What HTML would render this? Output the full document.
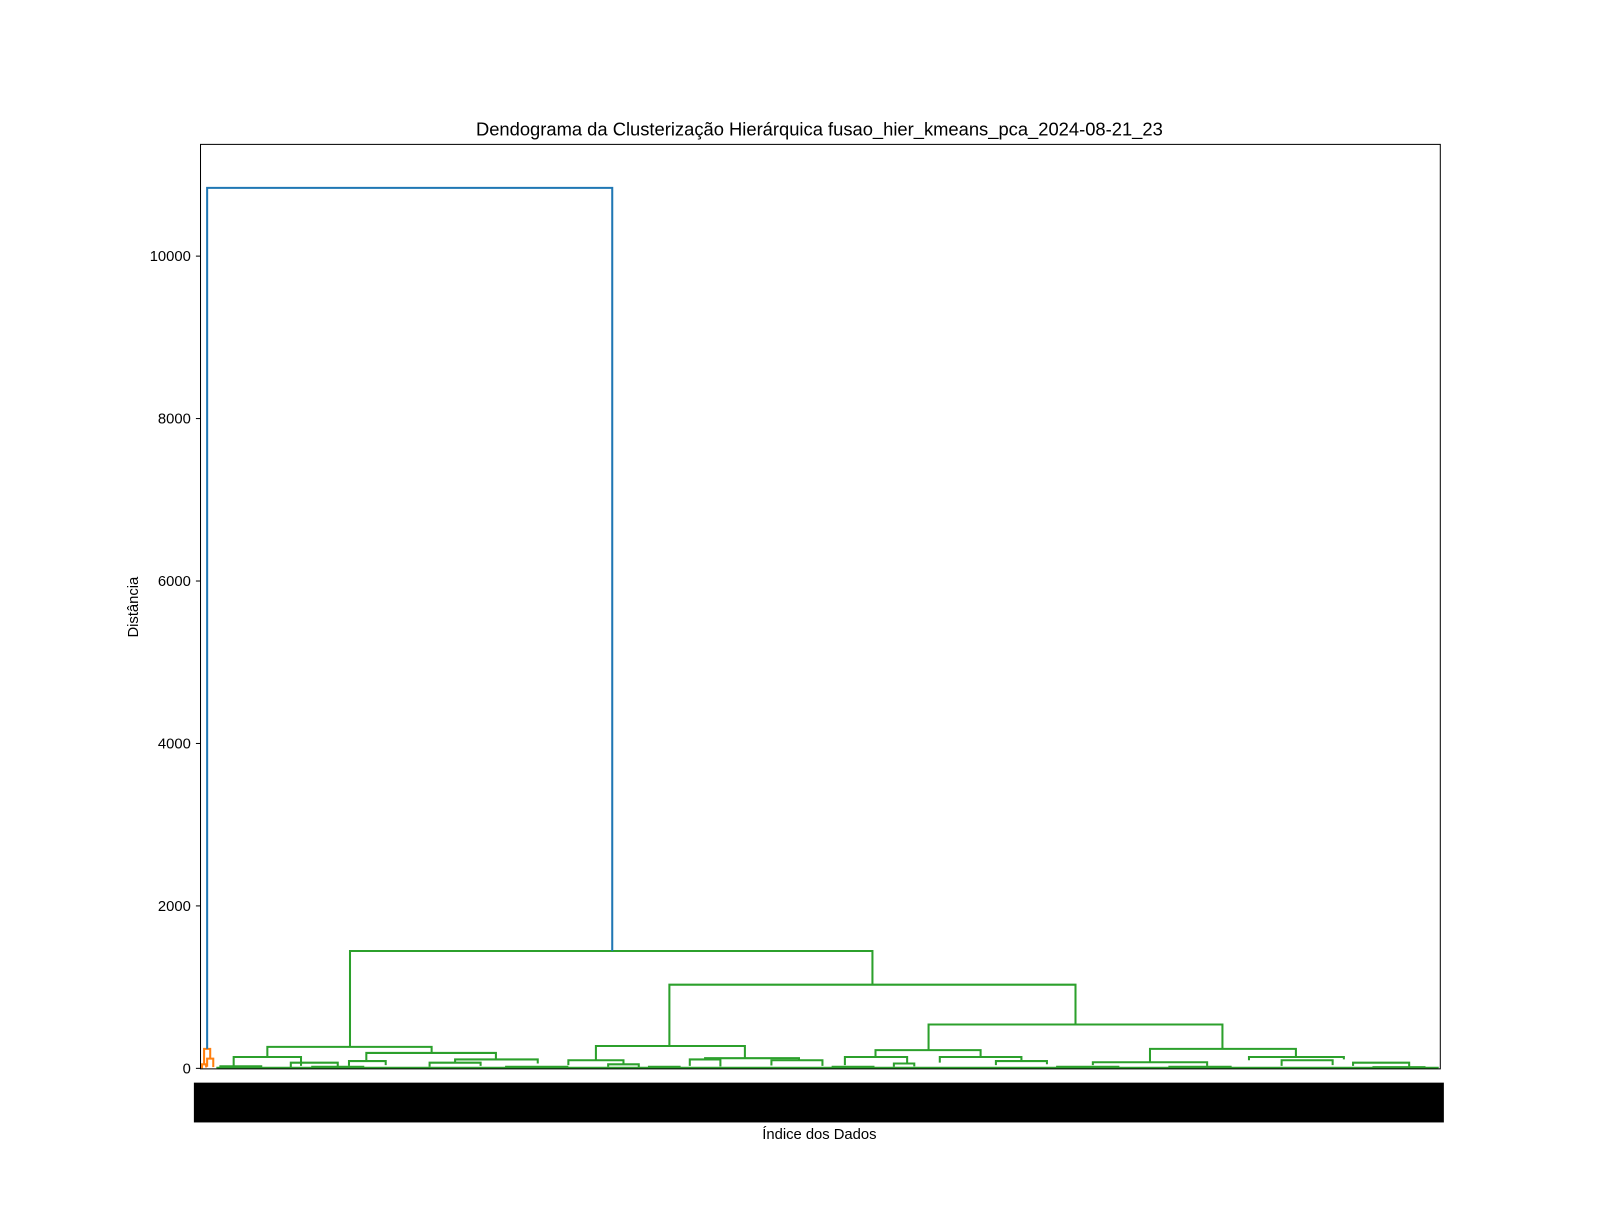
<!DOCTYPE html>
<html><head><meta charset="utf-8"><style>
body{margin:0;background:#fff}
svg text{font-family:"Liberation Sans","DejaVu Sans",sans-serif}
</style></head><body>
<svg id="c" width="1600" height="1200">
<rect width="1600" height="1200" fill="#fff"/>
<g transform="scale(1.0204)">
<text x="803" y="133" font-size="18" text-anchor="middle">Dendograma da Clusterização Hierárquica fusao_hier_kmeans_pca_2024-08-21_23</text>
<text transform="translate(135,595) rotate(-90)" font-size="14.5" text-anchor="middle">Distância</text>
<text x="803" y="1116" font-size="14.5" text-anchor="middle">Índice dos Dados</text>
<g id="links"></g><g id="yt"></g><g id="xt"></g>
<rect x="196.5" y="141.5" width="1215" height="906" fill="none" stroke="#000" stroke-width="1"/>
</g>
</svg>
<script>
const yTicks=[0,2000,4000,6000,8000,10000];
// links: [xLeft, xRight, hLeft, hRight, hTop] in leaf-position units
const blueLinks=[[7,404,240,1445,10840]];
const orangeLinks=[[4,10,50,120,240],[7,13,20,15,120],[2,6,0,10,50]];
const greenLinks=[
[147,659,264,1030,1445],
[66,227,140,190,264],[460,858,275,540,1030],
[388,534,100,125,275],[714,1002,225,240,540],
[662,765,140,140,225],[931,1074,75,140,240],
[33,99,20,30,140],[163,290,90,110,190],[250,331,70,60,110],
[361,415,40,50,100],[495,587,110,100,125],[632,693,40,60,140],
[725,805,70,90,140],[875,987,40,30,75],[1028,1121,100,110,140],
[89,135,10,20,70],[146,182,30,40,90],[225,275,20,30,70],
[400,430,20,15,50],[480,510,30,25,110],[560,610,35,30,100],
[680,700,20,25,60],[780,830,40,50,90],[1060,1110,30,40,100],
[1130,1185,30,25,70],[20,60,5,8,25],[110,160,5,10,20],[300,360,8,5,20],
[440,470,5,10,20],[620,660,5,10,20],[840,900,5,8,20],[950,1010,5,8,20],
[1150,1200,5,5,15],[17,1213,0,0,8]];
const nLabels=300;
const X=v=>196+v, Y=v=>1047-v*(796/10000);
const L=document.getElementById('links'),NS='http://www.w3.org/2000/svg';
function draw(arr,col,name){arr.forEach(a=>{const p=document.createElementNS(NS,'path');
p.setAttribute('d',`M${X(a[0])},${Y(a[2])}V${Y(a[4])}H${X(a[1])}V${Y(a[3])}`);
p.setAttribute('fill','none');p.setAttribute('stroke',col);p.setAttribute('stroke-width','2');


L.appendChild(p);});}
draw(greenLinks,'#2ca02c','green-cluster-link');draw(orangeLinks,'#ff7f0e','orange-cluster-link');draw(blueLinks,'#1f77b4','blue-root-link');
const yt=document.getElementById('yt');
yTicks.forEach(t=>{const y=Y(t);const l=document.createElementNS(NS,'line');
l.setAttribute('x1',192);l.setAttribute('x2',196);l.setAttribute('y1',y);l.setAttribute('y2',y);l.setAttribute('stroke','#000');


yt.appendChild(l);const tx=document.createElementNS(NS,'text');tx.setAttribute('x',187);tx.setAttribute('y',y+5);
tx.setAttribute('font-size','14.5');tx.setAttribute('text-anchor','end');tx.textContent=t;


yt.appendChild(tx);});
const xt=document.getElementById('xt');
const band=document.createElementNS(NS,'rect');band.setAttribute('x',190);band.setAttribute('y',1061);band.setAttribute('width',1225);band.setAttribute('height',39);band.setAttribute('fill','#000');


xt.appendChild(band);
for(let i=0;i<nLabels;i++){const x=196+(i+0.5)*1215/nLabels;const tx=document.createElementNS(NS,'text');
tx.setAttribute('transform',`translate(${x+3},1062) rotate(-90)`);tx.setAttribute('font-size','8');tx.setAttribute('text-anchor','end');
tx.textContent=String(1000+i*7);


xt.appendChild(tx);}
</script>
</body></html>
